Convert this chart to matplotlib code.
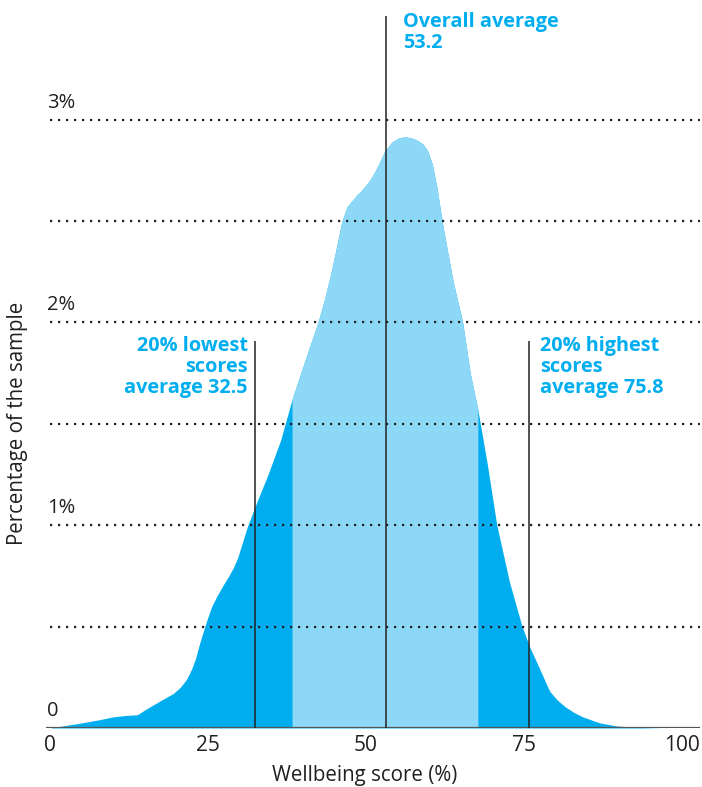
import matplotlib
matplotlib.use("Agg")
import matplotlib.pyplot as plt

# Density of wellbeing scores
score = [0, 2, 5, 8, 10, 12, 13.8, 15.3, 17.5, 19.5, 20.6, 21.6, 22.4, 23.0,
         23.7, 24.8, 25.6, 26.4, 27.5, 28.3, 29.0, 29.7, 30.2, 31.2, 32.8,
         34.5, 36.5, 38.3, 40.0, 41.2, 42.4, 43.5, 44.5, 45.4, 46.2, 47.0,
         47.8, 48.6, 49.3, 50.6, 51.7, 52.9, 54.1, 55.2, 56.2, 57.2, 58.0,
         59.0, 59.7, 60.5, 61.2, 62.2, 63.8, 65.3, 66.5, 67.7, 69.2, 70.7,
         72.7, 74.7, 75.9, 77.5, 78.5, 79.1, 80.2, 81.5, 83.0, 84.3, 87,
         89.7, 93, 97, 100]
pct = [0.0, 0.01, 0.025, 0.042, 0.055, 0.062, 0.065, 0.095, 0.135, 0.17,
       0.2, 0.24, 0.29, 0.34, 0.42, 0.53, 0.6, 0.65, 0.71, 0.75, 0.79,
       0.84, 0.89, 0.99, 1.12, 1.25, 1.42, 1.62, 1.78, 1.89, 2.0, 2.12,
       2.25, 2.38, 2.5, 2.57, 2.6, 2.63, 2.65, 2.7, 2.76, 2.84, 2.89, 2.91,
       2.915, 2.91, 2.9, 2.88, 2.85, 2.78, 2.67, 2.47, 2.2, 2.0, 1.75, 1.57,
       1.3, 1.0, 0.72, 0.5, 0.40, 0.29, 0.22, 0.18, 0.14, 0.105, 0.075,
       0.055, 0.025, 0.01, 0.003, 0.0, 0.0]

middle_lo, middle_hi = 38.3, 67.7   # middle 60% band
avg_low, avg_all, avg_high = 32.5, 53.2, 75.8

grid_levels = [0.5, 1.0, 1.5, 2.0, 2.5, 3.0]
y_labels = {0: "0", 1.0: "1%", 2.0: "2%", 3.0: "3%"}
x_ticks = [0, 25, 50, 75, 100]

DARK = "#00AEEF"
LIGHT = "#8DD8F7"
TXT = "#231F20"

plt.rcParams["font.family"] = ["Open Sans", "DejaVu Sans"]

fig = plt.figure(figsize=(7.02, 7.87), dpi=100)
ax = fig.add_axes([46 / 702, 59 / 787, 654 / 702, 728 / 787])
ax.set_xlim(-0.63, 102.85)
ax.set_ylim(0, 3.59)

ax.fill_between(score, pct, 0, color=DARK, lw=0)
mid_x = [s for s in score if middle_lo <= s <= middle_hi]
mid_y = [p for s, p in zip(score, pct) if middle_lo <= s <= middle_hi]
ax.fill_between(mid_x, mid_y, 0, color=LIGHT, lw=0)

for g in grid_levels:
    ax.hlines(g, 0, 102.85, colors="#222222", linestyles=(0, (1, 2.6)), lw=1.6)
ax.hlines(0, -0.63, 102.85, colors="#555555", lw=1.6)

for v, lab in y_labels.items():
    ax.text(-0.4, v + 0.035, lab, ha="left", va="bottom", fontsize=14.5, color=TXT)

ax.vlines(avg_all, 0, 3.51, colors="#222222", lw=1.1)
ax.vlines([avg_low, avg_high], 0, 1.91, colors="#222222", lw=1.1)

lbl = dict(fontsize=14.3, fontweight="bold", color=DARK, linespacing=1.08)
ax.text(55.9, 3.53, "Overall average\n53.2", ha="left", va="top", **lbl)
ax.text(31.3, 1.935, "20% lowest\nscores\naverage 32.5", ha="right", va="top", **lbl)
ax.text(77.5, 1.935, "20% highest\nscores\naverage 75.8", ha="left", va="top", **lbl)

ax.set_xticks(x_ticks)
ax.set_xticklabels([str(t) for t in x_ticks], fontsize=15, color=TXT)
ax.tick_params(axis="x", length=0, pad=5)
ax.set_yticks([])
for s in ax.spines.values():
    s.set_visible(False)

fig.text(365 / 702, 1 - 775 / 787, "Wellbeing score (%)", ha="center",
         va="center", fontsize=14.8, color=TXT)
fig.text(18 / 702, 1 - 423 / 787, "Percentage of the sample", rotation=90,
         ha="center", va="center", fontsize=14.8, color=TXT)

fig.savefig("out.png", dpi=100)
